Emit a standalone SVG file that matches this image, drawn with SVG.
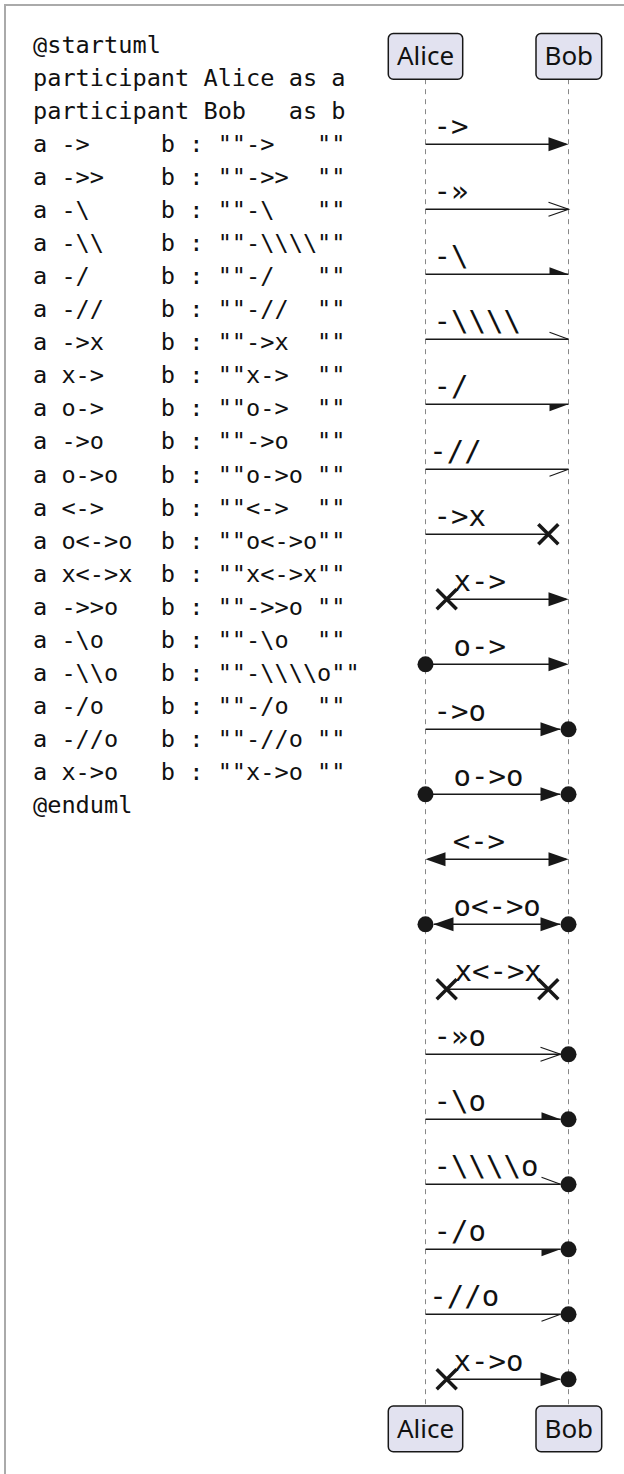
<svg xmlns="http://www.w3.org/2000/svg" xmlns:xlink="http://www.w3.org/1999/xlink" width="624" height="1474" viewBox="0 0 624 1474">
<style>
.code{font-family:"DejaVu Sans Mono","Liberation Mono",monospace;font-size:23.6px;fill:#111;white-space:pre}
.lbl{font-family:"DejaVu Sans Mono","Liberation Mono",monospace;font-size:29px;fill:#111;white-space:pre}
.pbox{fill:#E2E2F0;stroke:#181818;stroke-width:1.5}
.pname{font-family:"Noto Sans","DejaVu Sans",sans-serif;font-size:26px;fill:#111;text-anchor:middle}
.life{stroke:#888;stroke-width:1;stroke-dasharray:5,5;fill:none}
.msg{stroke:#181818;stroke-width:1.5;fill:none}
.head{fill:#181818;stroke:none}
.thin{stroke:#181818;stroke-width:1.2;fill:none}
.cross{stroke:#181818;stroke-width:3.5;fill:none}
</style>
<defs>
<polygon id="hd" class="head" points="-20,-7 0,0 -20,7"/>
<polyline id="op" class="thin" points="-20,-7 0,0 -20,7"/>
<polygon id="hu" class="head" points="-19,-7 0,0 -19,0"/>
<polygon id="hl" class="head" points="-19,7 0,0 -19,0"/>
<line id="su" class="thin" x1="-19" y1="-7" x2="0" y2="0"/>
<line id="sl" class="thin" x1="-19" y1="7" x2="0" y2="0"/>
<circle id="dot" class="head" r="8"/>
<path id="xx" class="cross" d="M-10,-10 L10,10 M10,-10 L-10,10"/>
</defs>
<rect x="5" y="5" width="700" height="1600" fill="#fff" stroke="#aaa" stroke-width="2"/>
<g id="code">
<text class="code" x="33" y="52.7">@startuml</text>
<text class="code" x="33" y="85.8">participant Alice as a</text>
<text class="code" x="33" y="118.8">participant Bob   as b</text>
<text class="code" x="33" y="151.9">a -&gt;     b : ""-&gt;   ""</text>
<text class="code" x="33" y="184.9">a -&gt;&gt;    b : ""-&gt;&gt;  ""</text>
<text class="code" x="33" y="218.0">a -\     b : ""-\   ""</text>
<text class="code" x="33" y="251.1">a -\\    b : ""-\\\\""</text>
<text class="code" x="33" y="284.1">a -/     b : ""-/   ""</text>
<text class="code" x="33" y="317.2">a -//    b : ""-//  ""</text>
<text class="code" x="33" y="350.2">a -&gt;x    b : ""-&gt;x  ""</text>
<text class="code" x="33" y="383.3">a x-&gt;    b : ""x-&gt;  ""</text>
<text class="code" x="33" y="416.4">a o-&gt;    b : ""o-&gt;  ""</text>
<text class="code" x="33" y="449.4">a -&gt;o    b : ""-&gt;o  ""</text>
<text class="code" x="33" y="482.5">a o-&gt;o   b : ""o-&gt;o ""</text>
<text class="code" x="33" y="515.5">a &lt;-&gt;    b : ""&lt;-&gt;  ""</text>
<text class="code" x="33" y="548.6">a o&lt;-&gt;o  b : ""o&lt;-&gt;o""</text>
<text class="code" x="33" y="581.7">a x&lt;-&gt;x  b : ""x&lt;-&gt;x""</text>
<text class="code" x="33" y="614.7">a -&gt;&gt;o   b : ""-&gt;&gt;o ""</text>
<text class="code" x="33" y="647.8">a -\o    b : ""-\o  ""</text>
<text class="code" x="33" y="680.8">a -\\o   b : ""-\\\\o""</text>
<text class="code" x="33" y="713.9">a -/o    b : ""-/o  ""</text>
<text class="code" x="33" y="747.0">a -//o   b : ""-//o ""</text>
<text class="code" x="33" y="780.0">a x-&gt;o   b : ""x-&gt;o ""</text>
<text class="code" x="33" y="813.1">@enduml</text>
</g>
<g id="connectors">
<line class="life" x1="425.5" y1="79.2" x2="425.5" y2="1406"/>
<line class="life" x1="568.5" y1="79.2" x2="568.5" y2="1406"/>
<!-- 0 -> -->
<line class="msg" x1="425.5" y1="144.3" x2="566" y2="144.3"/>
<use xlink:href="#hd" transform="translate(568.5,144.3)"/>
<text class="lbl" x="433.6" y="135.8">-&gt;</text>
<!-- 1 -» -->
<line class="msg" x1="425.5" y1="209.3" x2="568.5" y2="209.3"/>
<use xlink:href="#op" transform="translate(568.5,209.3)"/>
<text class="lbl" x="433.6" y="200.8">-»</text>
<!-- 2 -\ -->
<line class="msg" x1="425.5" y1="274.3" x2="568.5" y2="274.3"/>
<use xlink:href="#hu" transform="translate(568.5,274.3)"/>
<text class="lbl" x="433.6" y="265.8">-\</text>
<!-- 3 -\\\\ -->
<line class="msg" x1="425.5" y1="339.3" x2="568.5" y2="339.3"/>
<use xlink:href="#su" transform="translate(568.5,339.3)"/>
<text class="lbl" x="433.6" y="330.8">-\\\\</text>
<!-- 4 -/ -->
<line class="msg" x1="425.5" y1="404.3" x2="568.5" y2="404.3"/>
<use xlink:href="#hl" transform="translate(568.5,404.3)"/>
<text class="lbl" x="433.6" y="395.8">-/</text>
<!-- 5 -// -->
<line class="msg" x1="425.5" y1="469.3" x2="568.5" y2="469.3"/>
<use xlink:href="#sl" transform="translate(568.5,469.3)"/>
<text class="lbl" x="429.3" y="460.8">-//</text>
<!-- 6 ->x -->
<line class="msg" x1="425.5" y1="534.3" x2="548.3" y2="534.3"/>
<use xlink:href="#xx" transform="translate(548.3,534.3)"/>
<text class="lbl" x="433.6" y="525.8">-&gt;x</text>
<!-- 7 x-> -->
<line class="msg" x1="446.7" y1="599.3" x2="566" y2="599.3"/>
<use xlink:href="#xx" transform="translate(446.7,599.3)"/>
<use xlink:href="#hd" transform="translate(568.5,599.3)"/>
<text class="lbl" x="453.5" y="590.8">x-&gt;</text>
<!-- 8 o-> -->
<line class="msg" x1="425.5" y1="664.3" x2="566" y2="664.3"/>
<use xlink:href="#dot" transform="translate(425.5,664.3)"/>
<use xlink:href="#hd" transform="translate(568.5,664.3)"/>
<text class="lbl" x="453.5" y="655.8">o-&gt;</text>
<!-- 9 ->o -->
<line class="msg" x1="425.5" y1="729.3" x2="560" y2="729.3"/>
<use xlink:href="#hd" transform="translate(560.5,729.3)"/>
<use xlink:href="#dot" transform="translate(568.5,729.3)"/>
<text class="lbl" x="433.6" y="720.8">-&gt;o</text>
<!-- 10 o->o -->
<line class="msg" x1="425.5" y1="794.3" x2="560" y2="794.3"/>
<use xlink:href="#dot" transform="translate(425.5,794.3)"/>
<use xlink:href="#hd" transform="translate(560.5,794.3)"/>
<use xlink:href="#dot" transform="translate(568.5,794.3)"/>
<text class="lbl" x="453.5" y="785.8">o-&gt;o</text>
<!-- 11 <-> -->
<line class="msg" x1="428" y1="859.3" x2="566" y2="859.3"/>
<use xlink:href="#hd" transform="translate(425.5,859.3) scale(-1,1)"/>
<use xlink:href="#hd" transform="translate(568.5,859.3)"/>
<text class="lbl" x="452.7" y="850.8">&lt;-&gt;</text>
<!-- 12 o<->o -->
<line class="msg" x1="434" y1="924.3" x2="560" y2="924.3"/>
<use xlink:href="#dot" transform="translate(425.5,924.3)"/>
<use xlink:href="#hd" transform="translate(433.5,924.3) scale(-1,1)"/>
<use xlink:href="#hd" transform="translate(560.5,924.3)"/>
<use xlink:href="#dot" transform="translate(568.5,924.3)"/>
<text class="lbl" x="453.5" y="915.8">o&lt;-&gt;o</text>
<!-- 13 x<->x -->
<line class="msg" x1="446.7" y1="989.3" x2="548.3" y2="989.3"/>
<use xlink:href="#xx" transform="translate(446.7,989.3)"/>
<use xlink:href="#xx" transform="translate(548.3,989.3)"/>
<text class="lbl" x="454.5" y="980.8">x&lt;-&gt;x</text>
<!-- 14 -»o -->
<line class="msg" x1="425.5" y1="1054.3" x2="560.5" y2="1054.3"/>
<use xlink:href="#op" transform="translate(560.5,1054.3)"/>
<use xlink:href="#dot" transform="translate(568.5,1054.3)"/>
<text class="lbl" x="433.6" y="1045.8">-»o</text>
<!-- 15 -\o -->
<line class="msg" x1="425.5" y1="1119.3" x2="560.5" y2="1119.3"/>
<use xlink:href="#hu" transform="translate(560.5,1119.3)"/>
<use xlink:href="#dot" transform="translate(568.5,1119.3)"/>
<text class="lbl" x="433.6" y="1110.8">-\o</text>
<!-- 16 -\\\\o -->
<line class="msg" x1="425.5" y1="1184.3" x2="560.5" y2="1184.3"/>
<use xlink:href="#su" transform="translate(560.5,1184.3)"/>
<use xlink:href="#dot" transform="translate(568.5,1184.3)"/>
<text class="lbl" x="433.6" y="1175.8">-\\\\o</text>
<!-- 17 -/o -->
<line class="msg" x1="425.5" y1="1249.3" x2="560.5" y2="1249.3"/>
<use xlink:href="#hl" transform="translate(560.5,1249.3)"/>
<use xlink:href="#dot" transform="translate(568.5,1249.3)"/>
<text class="lbl" x="433.6" y="1240.8">-/o</text>
<!-- 18 -//o -->
<line class="msg" x1="425.5" y1="1314.3" x2="560.5" y2="1314.3"/>
<use xlink:href="#sl" transform="translate(560.5,1314.3)"/>
<use xlink:href="#dot" transform="translate(568.5,1314.3)"/>
<text class="lbl" x="429.3" y="1305.8">-//o</text>
<!-- 19 x->o -->
<line class="msg" x1="446.7" y1="1379.3" x2="560" y2="1379.3"/>
<use xlink:href="#xx" transform="translate(446.7,1379.3)"/>
<use xlink:href="#hd" transform="translate(560.5,1379.3)"/>
<use xlink:href="#dot" transform="translate(568.5,1379.3)"/>
<text class="lbl" x="453.5" y="1370.8">x-&gt;o</text>
</g>
<g id="alice-top">
<rect class="pbox" x="388.3" y="33.5" width="74.4" height="45.7" rx="5"/>
<text class="pname" x="425.5" y="65">Alice</text>
</g>
<g id="bob-top">
<rect class="pbox" x="536" y="33.5" width="65.7" height="45.7" rx="5"/>
<text class="pname" x="568.8" y="65">Bob</text>
</g>
<g id="alice-bottom">
<rect class="pbox" x="388.3" y="1406" width="74.4" height="45.7" rx="5"/>
<text class="pname" x="425.5" y="1437.5">Alice</text>
</g>
<g id="bob-bottom">
<rect class="pbox" x="536" y="1406" width="65.7" height="45.7" rx="5"/>
<text class="pname" x="568.8" y="1437.5">Bob</text>
</g>
</svg>
